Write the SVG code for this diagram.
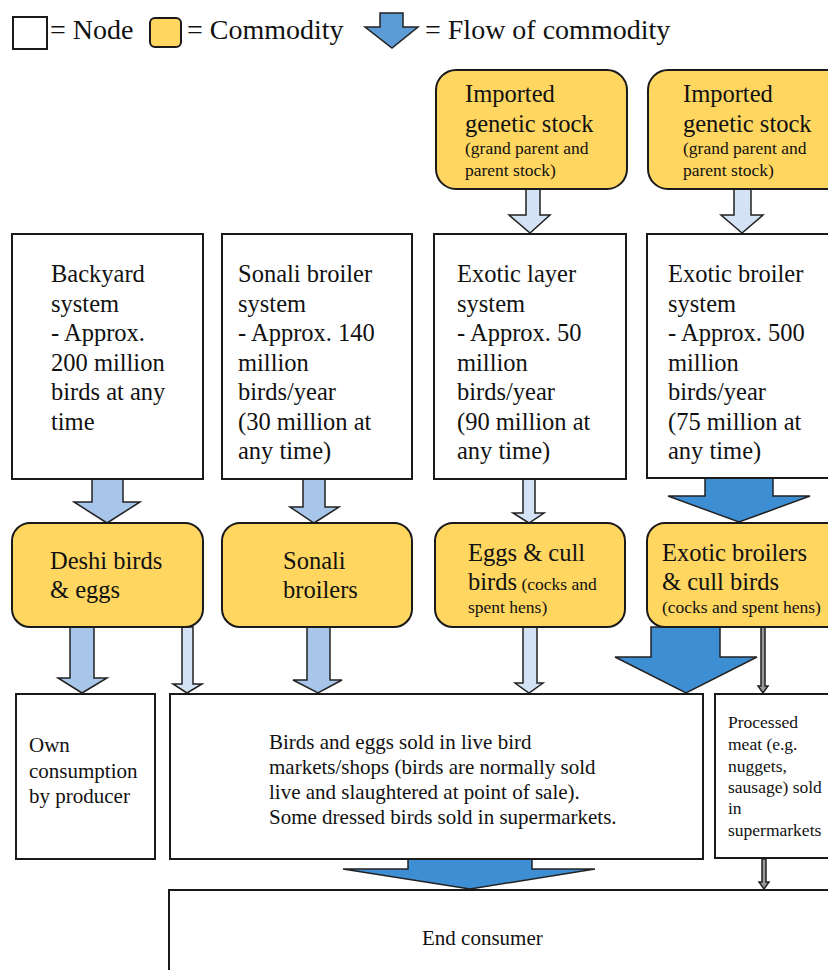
<svg xmlns="http://www.w3.org/2000/svg" width="828" height="970" viewBox="0 0 828 970" font-family="'Liberation Serif', 'Times New Roman', Times, 'DejaVu Serif', serif">
<style>
text{fill:#111}
.big{font-size:24.5px}
.sm{font-size:17.5px}
.mid{font-size:21px}
.leg{font-size:28px}
.node{fill:#fff;stroke:#1a1a1a;stroke-width:2}
.com{fill:#FFD660;stroke:#1a1a1a;stroke-width:2}
.arr{stroke:#222;stroke-width:1.5;stroke-linejoin:miter}
.light{fill:#D3E2F4}
.med{fill:#A7C6E9}
.dark{fill:#3E8ED4}
.gray{fill:#9a9a9a}
</style>
<rect width="828" height="970" fill="#fff"/>
<g id="legend">
<rect x="13" y="17" width="34" height="32" class="node"/>
<text class="leg" x="50" y="39">= Node</text>
<rect x="150" y="18" width="31" height="29" rx="5" class="com"/>
<text class="leg" x="187" y="39">= Commodity</text>
<polygon class="arr" fill="#5D9BD6" points="380,13 403,13 403,27 418,27 392,48 365,27 380,27"/>
<text class="leg" x="425" y="39">= Flow of commodity</text>
</g>
<g id="connectors">
<polygon class="arr light" points="526,189 540,189 540,215 550,215 530,233 509,215 526,215"/>
<polygon class="arr light" points="734,189 751,189 751,215 763,215 742,233 721,215 734,215"/>
<polygon class="arr med" points="92,479 123,479 123,502 140,502 107,523 74,502 92,502"/>
<polygon class="arr med" points="303,479 325,479 325,507 339,507 314,523 290,507 303,507"/>
<polygon class="arr light" points="523,479 535,479 535,513 544,513 529,523 513,513 523,513"/>
<polygon class="arr dark" points="705,478 773,478 773,496 810,496 739,522 668,496 705,496"/>
<polygon class="arr med" points="70,627 94,627 94,678 107,678 82,693 58,678 70,678"/>
<polygon class="arr light" points="182,627 193,627 193,684 202,684 187,693 173,684 182,684"/>
<polygon class="arr med" points="307,627 330,627 330,680 342,680 318,693 293,680 307,680"/>
<polygon class="arr light" points="523,627 537,627 537,683 543,683 529,693 515,683 523,683"/>
<polygon class="arr dark" points="651,627 720,627 720,657 757,657 686,693 615,657 651,657"/>
<polygon class="arr gray" points="761,627 765,627 765,686 768,686 763,693 758,686 761,686"/>
<polygon class="arr dark" points="408,859 532,859 532,869 595,869 470,889 343,869 408,869"/>
<polygon class="arr gray" points="762,859 766,859 766,882 769,882 764,889 759,882 762,882"/>
</g>
<g id="imported-1">
<rect x="436" y="70" width="191" height="119" rx="20" class="com"/>
<text class="big" x="465" y="102">Imported</text>
<text class="big" x="465" y="132">genetic stock</text>
<text class="sm" x="465" y="154">(grand parent and</text>
<text class="sm" x="465" y="176">parent stock)</text>
</g>
<g id="imported-2">
<rect x="648" y="70" width="200" height="119" rx="20" class="com"/>
<text class="big" x="683" y="102">Imported</text>
<text class="big" x="683" y="132">genetic stock</text>
<text class="sm" x="683" y="154">(grand parent and</text>
<text class="sm" x="683" y="176">parent stock)</text>
</g>
<g id="backyard-system">
<rect x="12" y="234" width="191" height="245" class="node"/>
<text class="big" x="51" y="282">Backyard</text>
<text class="big" x="51" y="311.5">system</text>
<text class="big" x="51" y="341">- Approx.</text>
<text class="big" x="51" y="370.5">200 million</text>
<text class="big" x="51" y="400">birds at any</text>
<text class="big" x="51" y="429.5">time</text>
</g>
<g id="sonali-system">
<rect x="222" y="234" width="190" height="245" class="node"/>
<text class="big" x="238" y="282">Sonali broiler</text>
<text class="big" x="238" y="311.5">system</text>
<text class="big" x="238" y="341">- Approx. 140</text>
<text class="big" x="238" y="370.5">million</text>
<text class="big" x="238" y="400">birds/year</text>
<text class="big" x="238" y="429.5">(30 million at</text>
<text class="big" x="238" y="459">any time)</text>
</g>
<g id="layer-system">
<rect x="434" y="234" width="192" height="245" class="node"/>
<text class="big" x="457" y="282">Exotic layer</text>
<text class="big" x="457" y="311.5">system</text>
<text class="big" x="457" y="341">- Approx. 50</text>
<text class="big" x="457" y="370.5">million</text>
<text class="big" x="457" y="400">birds/year</text>
<text class="big" x="457" y="429.5">(90 million at</text>
<text class="big" x="457" y="459">any time)</text>
</g>
<g id="broiler-system">
<rect x="647" y="234" width="200" height="244" class="node"/>
<text class="big" x="668" y="282">Exotic broiler</text>
<text class="big" x="668" y="311.5">system</text>
<text class="big" x="668" y="341">- Approx. 500</text>
<text class="big" x="668" y="370.5">million</text>
<text class="big" x="668" y="400">birds/year</text>
<text class="big" x="668" y="429.5">(75 million at</text>
<text class="big" x="668" y="459">any time)</text>
</g>
<g id="deshi">
<rect x="12" y="523" width="191" height="104" rx="18" class="com"/>
<text class="big" x="50" y="569">Deshi birds</text>
<text class="big" x="50" y="598">&amp; eggs</text>
</g>
<g id="sonali">
<rect x="222" y="523" width="190" height="104" rx="18" class="com"/>
<text class="big" x="283" y="569">Sonali</text>
<text class="big" x="283" y="598">broilers</text>
</g>
<g id="eggs">
<rect x="435" y="523" width="190" height="104" rx="18" class="com"/>
<text class="big" x="468" y="561">Eggs &amp; cull</text>
<text x="468" y="590"><tspan class="big">birds</tspan><tspan class="sm"> (cocks and</tspan></text>
<text class="sm" x="468" y="613">spent hens)</text>
</g>
<g id="exotic-broilers">
<rect x="647" y="523" width="200" height="104" rx="18" class="com"/>
<text class="big" x="662" y="561">Exotic broilers</text>
<text class="big" x="662" y="590">&amp; cull birds</text>
<text class="sm" x="662" y="613">(cocks and spent hens)</text>
</g>
<g id="own-consumption">
<rect x="16" y="694" width="139" height="165" class="node"/>
<text class="mid" x="29" y="752">Own</text>
<text class="mid" x="29" y="777.5">consumption</text>
<text class="mid" x="29" y="803">by producer</text>
</g>
<g id="markets">
<rect x="170" y="694" width="533" height="165" class="node"/>
<text class="mid" x="269" y="749">Birds and eggs sold in live bird</text>
<text class="mid" x="269" y="774">markets/shops (birds are normally sold</text>
<text class="mid" x="269" y="799">live and slaughtered at point of sale).</text>
<text class="mid" x="269" y="824">Some dressed birds sold in supermarkets.</text>
</g>
<g id="processed">
<rect x="715" y="694" width="130" height="164" class="node"/>
<text class="sm" x="728" y="728">Processed</text>
<text class="sm" x="728" y="750">meat (e.g.</text>
<text class="sm" x="728" y="771.5">nuggets,</text>
<text class="sm" x="728" y="793">sausage) sold</text>
<text class="sm" x="728" y="814">in</text>
<text class="sm" x="728" y="835.5">supermarkets</text>
</g>
<g id="end-consumer">
<rect x="169" y="890" width="680" height="100" class="node"/>
<text class="mid" x="422" y="945">End consumer</text>
</g>
</svg>
